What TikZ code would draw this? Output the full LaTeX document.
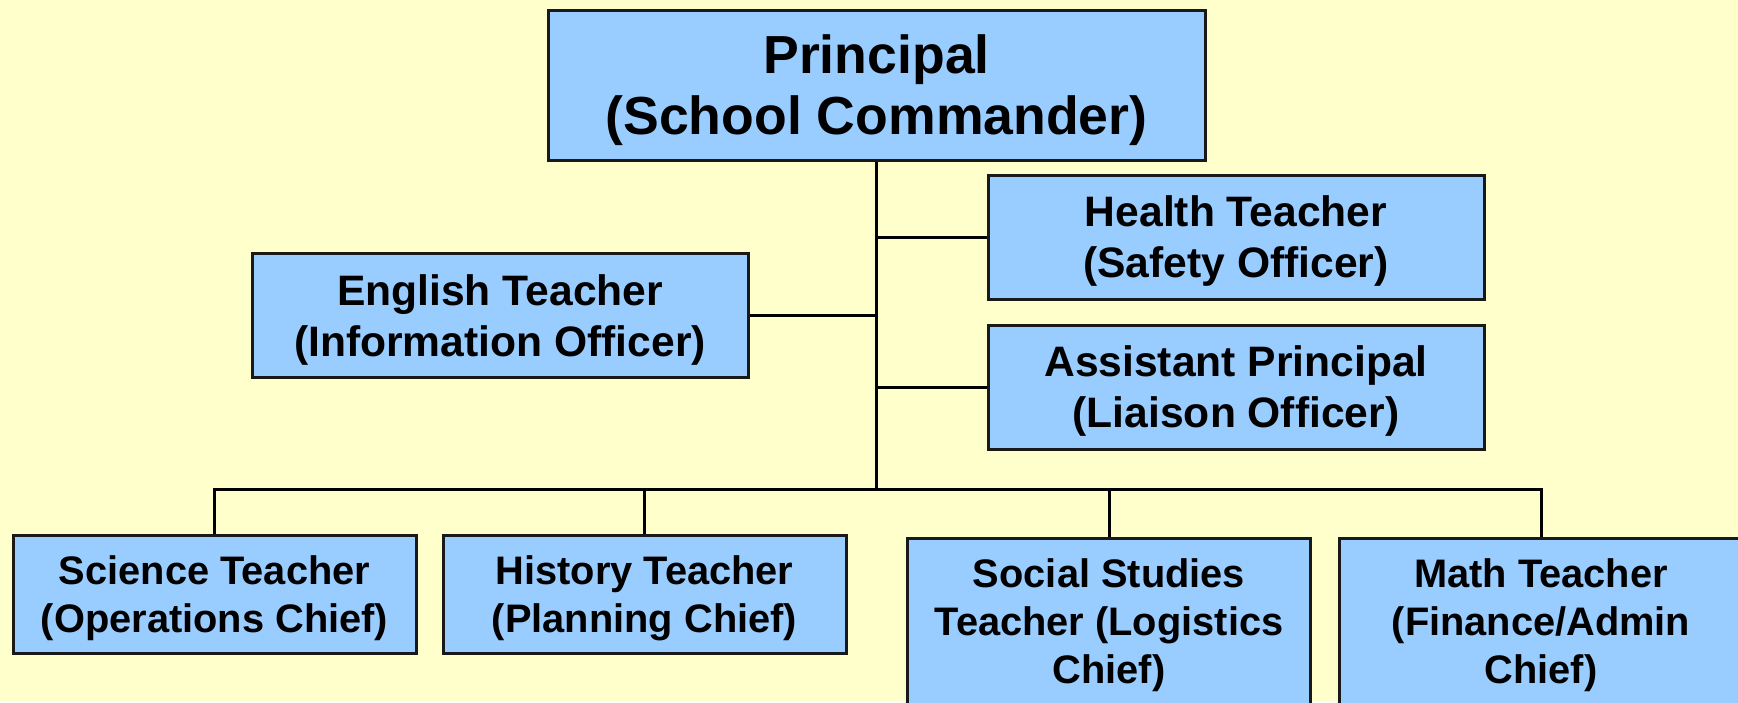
\documentclass[tikz,border=0pt]{standalone}
\usepackage{fontspec}
\setmainfont{Liberation Sans}
\usepackage{tikz}

\definecolor{paper}{HTML}{FFFFCC}
\definecolor{boxblue}{HTML}{99CCFF}

\begin{document}
\begin{tikzpicture}[x=0.5pt,y=-0.5pt,line width=1.5pt,
    org box/.style={rectangle,draw=black!90,fill=boxblue,inner sep=0pt,align=center,text depth=-2pt},
    top box/.style={org box,minimum width=328.5pt,minimum height=75pt,font=\fontsize{26.8}{30.5}\selectfont\bfseries},
    staff box/.style={org box,minimum width=248pt,minimum height=62pt,font=\fontsize{21.3}{25.5}\selectfont\bfseries},
    chief box/.style={org box,minimum width=201.5pt,minimum height=59pt,font=\fontsize{19.9}{23.8}\selectfont\bfseries},
    tall box/.style={chief box,minimum height=83pt}]
    \fill[paper] (0,0) rectangle (1738,702);
    \useasboundingbox (0,0) rectangle (1738,702);

    \node[top box] (principal) at (876.5,85) {Principal\\(School Commander)};
    \node[staff box] (health) at (1236,237) {Health Teacher\\(Safety Officer)};
    \node[staff box] (english) at (500,315.5) {English Teacher\\(Information Officer)};
    \node[staff box] (assistant) at (1236,387) {Assistant Principal\\(Liaison Officer)};
    \node[chief box] (science) at (214.5,594) {Science Teacher\\(Operations Chief)};
    \node[chief box] (history) at (644.5,594) {History Teacher\\(Planning Chief)};
    \node[tall box] (social) at (1109,621) {Social Studies\\Teacher (Logistics\\Chief)};
    \node[tall box] (math) at (1541,621) {Math Teacher\\(Finance/Admin\\Chief)};
    \coordinate (bus) at (876.5,489);

    \draw (principal.south) -- (bus);
    \draw (health.west) -- (health.west -| principal.south);
    \draw (english.east) -- (english.east -| principal.south);
    \draw (assistant.west) -- (assistant.west -| principal.south);
    \draw (science.north) |- (bus) -| (math.north);
    \draw (history.north) -- (history.north |- bus);
    \draw (social.north) -- (social.north |- bus);
\end{tikzpicture}
\end{document}
